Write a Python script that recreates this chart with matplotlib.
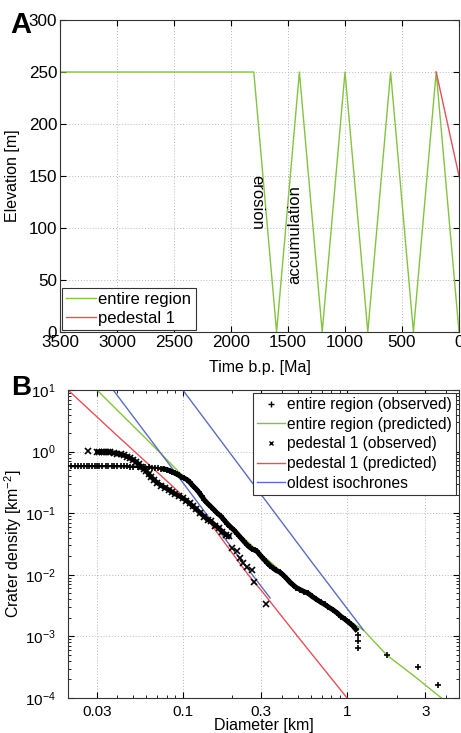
import numpy as np
import matplotlib
matplotlib.use("Agg")
import matplotlib.pyplot as plt
from matplotlib.ticker import FixedLocator, LogLocator, NullFormatter, LogFormatterMathtext

plt.rcParams['font.family'] = ['Liberation Sans', 'DejaVu Sans']
plt.rcParams['mathtext.default'] = 'regular'
plt.rcParams['font.size'] = 11.5

# ---- panel A: elevation history ----
time_entire = [3500, 1800, 1600, 1400, 1200, 1000, 800, 600, 400, 200, 0]
elev_entire = [250, 250, 0, 250, 0, 250, 0, 250, 0, 250, 0]
time_ped = [200, 0]
elev_ped = [250, 150]

# ---- panel B: crater size-frequency ----
ent_obs_D = [0.021, 0.022, 0.023, 0.024, 0.025, 0.026, 0.027, 0.028, 0.029, 0.030,
             0.031, 0.032, 0.034, 0.035, 0.037, 0.038, 0.040, 0.042, 0.044, 0.046,
             0.048, 0.050, 0.053, 0.056, 0.059, 0.062, 0.065, 0.068, 0.071, 0.074,
             0.077, 0.080, 0.083, 0.086, 0.089, 0.092, 0.095, 0.098, 0.102, 0.106,
             0.110, 0.115, 0.120, 0.125, 0.130, 0.135, 0.141, 0.148, 0.155, 0.162,
             0.170, 0.178, 0.186, 0.195, 0.205, 0.215, 0.225, 0.235, 0.245, 0.255,
             0.265, 0.275, 0.283, 0.295, 0.310, 0.325, 0.340, 0.355, 0.370, 0.390,
             0.410, 0.430, 0.450, 0.470, 0.490, 0.520, 0.550, 0.580, 0.610, 0.650,
             0.690, 0.730, 0.770, 0.820, 0.870, 0.920, 0.970, 1.020, 1.080, 1.130,
             1.160, 1.170, 1.170, 1.760, 2.700, 3.600]
ent_obs_N = [0.58, 0.58, 0.58, 0.58, 0.58, 0.58, 0.58, 0.58, 0.58, 0.58,
             0.58, 0.58, 0.58, 0.58, 0.58, 0.578, 0.577, 0.576, 0.575, 0.574,
             0.572, 0.57, 0.568, 0.565, 0.56, 0.555, 0.55, 0.545, 0.54, 0.53,
             0.52, 0.51, 0.49, 0.47, 0.45, 0.43, 0.41, 0.39, 0.37, 0.35,
             0.32, 0.28, 0.25, 0.22, 0.19, 0.165, 0.145, 0.128, 0.113, 0.10,
             0.09, 0.078, 0.068, 0.06, 0.053, 0.046, 0.04, 0.035, 0.031, 0.028,
             0.026, 0.025, 0.024, 0.021, 0.018, 0.0158, 0.014, 0.0128, 0.0118, 0.011,
             0.0098, 0.0086, 0.0075, 0.0068, 0.0062, 0.0057, 0.0053, 0.005, 0.0045, 0.0040,
             0.0036, 0.0033, 0.0030, 0.0027, 0.0024, 0.0021, 0.0019, 0.0017, 0.0015, 0.0013,
             0.00105, 0.00083, 0.00065, 0.0005, 0.00032, 0.00016]

ped_obs_D = [0.0265, 0.030, 0.031, 0.032, 0.033, 0.034, 0.035, 0.036, 0.038, 0.040,
             0.042, 0.044, 0.046, 0.048, 0.050, 0.052, 0.054, 0.056, 0.058, 0.060,
             0.062, 0.064, 0.067, 0.070, 0.074, 0.078, 0.082, 0.086, 0.090, 0.095,
             0.100, 0.105, 0.110, 0.115, 0.120, 0.128, 0.135, 0.142, 0.148, 0.158,
             0.166, 0.174, 0.183, 0.190, 0.200, 0.213, 0.224, 0.233, 0.245, 0.265,
             0.273, 0.322]
ped_obs_N = [1.02, 1.0, 1.0, 1.0, 1.0, 0.99, 0.98, 0.97, 0.95, 0.93,
             0.90, 0.87, 0.83, 0.78, 0.73, 0.68, 0.62, 0.57, 0.53, 0.48,
             0.43, 0.39, 0.345, 0.31, 0.28, 0.26, 0.24, 0.22, 0.205, 0.19,
             0.175, 0.16, 0.145, 0.13, 0.118, 0.10, 0.088, 0.078, 0.074, 0.063,
             0.057, 0.05, 0.045, 0.042, 0.027, 0.024, 0.0185, 0.0154, 0.0135, 0.0118,
             0.0077, 0.0033]

ent_pred_D = [0.03, 0.06, 0.109, 0.141, 0.205, 0.283, 0.41, 0.52, 0.656, 0.82,
              1.0, 1.26, 1.74, 2.6, 3.75, 4.8]
ent_pred_N = [10, 1.6, 0.32, 0.15, 0.055, 0.025, 0.0105, 0.0058, 0.0040, 0.0028,
              0.0019, 0.00126, 0.0005, 0.00022, 0.0001, 0.00005]

ped_pred_D = [0.02, 0.04, 0.0846, 0.142, 0.25, 0.3, 0.5, 1.0, 1.1]
ped_pred_N = [10, 1.8, 0.29, 0.078, 0.01, 0.0056, 0.001, 0.0001, 0.00007]

iso1_D = [0.0377, 0.0846, 0.15, 0.265, 0.34]
iso1_N = [10, 0.57, 0.074, 0.01, 0.0042]
iso2_D = [0.1, 0.3, 0.6, 1.26]
iso2_N = [10, 0.2, 0.017, 0.00126]

green = '#84c342'
red = '#e5505a'
blue = '#5c6cbf'
gridc = '#b8b8b8'

fig = plt.figure(figsize=(4.61, 7.33), dpi=100)
W, H = 461.0, 733.0

# panel A
axA = fig.add_axes([60 / W, 1 - 332 / H, 399 / W, 312 / H])
axA.plot(time_entire, elev_entire, color=green, lw=1.0, label='entire region')
axA.plot(time_ped, elev_ped, color=red, lw=1.0, label='pedestal 1')
axA.set_xlim(3500, 0)
axA.set_ylim(0, 300)
axA.set_xticks(np.arange(3500, -1, -500))
axA.set_yticks(np.arange(0, 301, 50))
axA.grid(True, color=gridc, linestyle=(0, (1, 2)), lw=0.7)
axA.tick_params(direction='in', top=True, right=True, length=4, pad=2, labelsize=12.3)
axA.set_xlabel('Time b.p. [Ma]')
axA.set_ylabel('Elevation [m]')
axA.xaxis.set_label_coords(0.5, -0.09)
axA.yaxis.set_label_coords(-0.10, 0.5)
axA.text(1771, 125, 'erosion', rotation=-90, ha='center', va='center', fontsize=12)
axA.text(1440, 94, 'accumulation', rotation=90, ha='center', va='center', fontsize=12)
legA = axA.legend(loc='lower left', borderaxespad=0.1, handlelength=1.8, handletextpad=0.15,
                  labelspacing=0.25, borderpad=0.25, fancybox=False, framealpha=1, fontsize=12)
legA.get_frame().set_edgecolor('#333333')
legA.get_frame().set_linewidth(0.8)
fig.text(10 / W, 1 - 33 / H, 'A', fontsize=21, fontweight='bold', ha='left', va='baseline')

# panel B
axB = fig.add_axes([68 / W, 1 - 698 / H, 391 / W, 308 / H])
axB.set_xscale('log')
axB.set_yscale('log')
axB.plot(ent_pred_D, ent_pred_N, color=green, lw=1.0, zorder=2)
axB.plot(ped_pred_D, ped_pred_N, color=red, lw=1.0, zorder=2)
axB.plot(iso1_D, iso1_N, color=blue, lw=1.0, zorder=2)
axB.plot(iso2_D, iso2_N, color=blue, lw=1.0, zorder=2)

eD = np.array(ent_obs_D)
eN = np.array(ent_obs_N)
dense = eD < 1.15
axB.plot(eD[dense][30:], eN[dense][30:], color='k', lw=3.6, zorder=3)
axB.plot(eD[dense][:31], eN[dense][:31], color='k', lw=1.6, zorder=3)
axB.plot(eD, eN, '+', color='k', ms=5, mew=1.2, zorder=4)
pD = np.array(ped_obs_D)
pN = np.array(ped_obs_N)
axB.plot(pD[1:9], pN[1:9], color='k', lw=2.5, zorder=3)
axB.plot(pD[8:44], pN[8:44], color='k', lw=3.4, zorder=3)
axB.plot(pD, pN, 'x', color='k', ms=4, mew=1.2, zorder=4)

axB.set_xlim(0.02, 4.8)
axB.set_ylim(1e-4, 10)
axB.xaxis.set_major_locator(FixedLocator([0.03, 0.1, 0.3, 1, 3]))
axB.set_xticklabels(['0.03', '0.1', '0.3', '1', '3'])
axB.xaxis.set_minor_locator(LogLocator(base=10, subs=np.arange(1, 10), numticks=20))
axB.xaxis.set_minor_formatter(NullFormatter())
axB.yaxis.set_major_locator(FixedLocator([1e-4, 1e-3, 1e-2, 1e-1, 1, 10]))
axB.yaxis.set_major_formatter(LogFormatterMathtext())
axB.yaxis.set_minor_locator(LogLocator(base=10, subs=np.arange(2, 10), numticks=20))
axB.yaxis.set_minor_formatter(NullFormatter())
axB.grid(True, which='major', color=gridc, linestyle=(0, (1, 2)), lw=0.7)
axB.tick_params(which='both', direction='in', top=True, right=True, labelsize=11)
axB.tick_params(which='major', length=4)
axB.tick_params(which='minor', length=2)
axB.tick_params(axis='x', pad=5)
axB.tick_params(axis='y', pad=9)
axB.set_xlabel('Diameter [km]')
axB.set_ylabel('Crater density [km$^{-2}$]')
axB.xaxis.set_label_coords(0.5, -0.064)
axB.yaxis.set_label_coords(-0.112, 0.5)

hB = [
    plt.Line2D([], [], ls='none', marker='+', color='k', ms=4, mew=1.0),
    plt.Line2D([], [], color=green, lw=1.0),
    plt.Line2D([], [], ls='none', marker='x', color='k', ms=3, mew=1.0),
    plt.Line2D([], [], color=red, lw=1.0),
    plt.Line2D([], [], color=blue, lw=1.0),
]
lB = ['entire region (observed)', 'entire region (predicted)', 'pedestal 1 (observed)',
      'pedestal 1 (predicted)', 'oldest isochrones']
legB = axB.legend(hB, lB, loc='upper right', borderaxespad=0.2, handlelength=1.8,
                  handletextpad=0.15, labelspacing=0.3, borderpad=0.25,
                  fancybox=False, framealpha=1, fontsize=11.2)
legB.get_frame().set_edgecolor('#333333')
legB.get_frame().set_linewidth(0.8)
legB.set_zorder(10)
fig.text(11 / W, 1 - 395 / H, 'B', fontsize=20, fontweight='bold', ha='left', va='baseline')

for ax in (axA, axB):
    for s in ax.spines.values():
        s.set_color('#333333')
        s.set_linewidth(0.8)

fig.savefig('out.png', dpi=100)
